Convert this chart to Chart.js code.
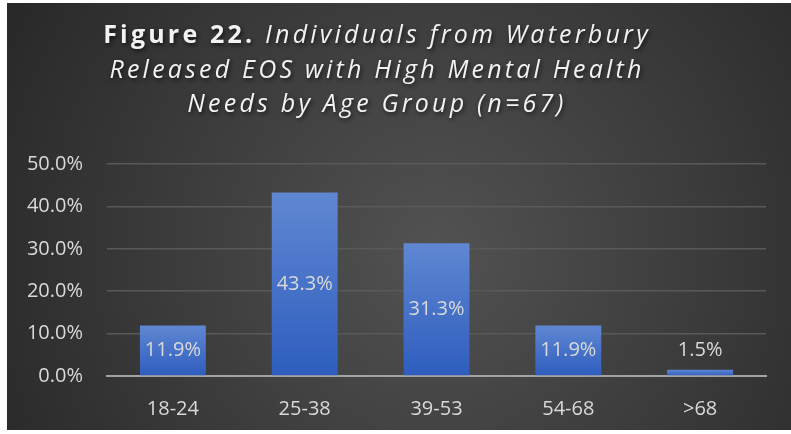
<!DOCTYPE html>
<html>
<head>
<meta charset="utf-8">
<script src="https://cdn.jsdelivr.net/npm/chart.js@4"></script>
<style>
  html, body { margin: 0; padding: 0; background: #ffffff; }
  #wrap { position: absolute; left: 7px; top: 3px; width: 784px; height: 427px; }
</style>
</head>
<body>
<div id="wrap"><canvas id="ageChart" width="784" height="427"></canvas></div>
<script>
const ageGroups = ['18-24', '25-38', '39-53', '54-68', '>68'];
const shareReleased = [11.9, 43.3, 31.3, 11.9, 1.5];
const yTicks = [0, 10, 20, 30, 40, 50];
const titleBold = 'Figure 22.';
const titleLines = [' Individuals from Waterbury', 'Released EOS with High Mental Health', 'Needs by Age Group (n=67)'];

const FONT = '"Open Sans", "Noto Sans", sans-serif';
const TEXT = '#d9d9d9';

// dark panel with a soft radial glow
const backdrop = {
  id: 'backdrop',
  beforeDraw(chart) {
    const c = chart.ctx;
    const w = chart.width, h = chart.height;
    const g = c.createRadialGradient(430, 250, 0, 430, 250, 520);
    g.addColorStop(0, '#525252');
    g.addColorStop(1, '#262626');
    c.save();
    c.fillStyle = g;
    c.fillRect(0, 0, w, h);
    c.restore();
  }
};

// three-line heading: bold lead-in, italic remainder, wide tracking
const heading = {
  id: 'heading',
  afterDraw(chart) {
    const c = chart.ctx;
    const cx = 370;
    const baselines = [40, 74.5, 109];
    c.save();
    c.fillStyle = '#f2f2f2';
    c.textBaseline = 'alphabetic';
    c.textAlign = 'left';
    c.letterSpacing = '3.2px';
    c.shadowColor = 'rgba(0,0,0,0.65)';
    c.shadowOffsetX = 1.5;
    c.shadowOffsetY = 2;
    c.shadowBlur = 4;
    const boldFont = 'bold 25px ' + FONT;
    const italFont = 'italic 25px ' + FONT;

    c.font = boldFont;
    const wb = c.measureText(titleBold).width;
    c.font = italFont;
    const wi = c.measureText(titleLines[0]).width;
    let x = cx - (wb + wi) / 2;
    c.font = boldFont;
    c.fillText(titleBold, x, baselines[0]);
    c.font = italFont;
    c.fillText(titleLines[0], x + wb, baselines[0]);

    for (let i = 1; i < titleLines.length; i++) {
      const w = c.measureText(titleLines[i]).width;
      c.fillText(titleLines[i], cx - w / 2, baselines[i]);
    }
    c.restore();
  }
};

// value labels: centred in the bar, or just above it when the bar is short
const valueLabels = {
  id: 'valueLabels',
  afterDatasetsDraw(chart) {
    const c = chart.ctx;
    const meta = chart.getDatasetMeta(0);
    c.save();
    c.font = '20px ' + FONT;
    c.fillStyle = TEXT;
    c.textAlign = 'center';
    c.textBaseline = 'middle';
    meta.data.forEach((bar, i) => {
      const v = chart.data.datasets[0].data[i];
      const h = bar.base - bar.y;
      const y = h > 28 ? (bar.y + bar.base) / 2 : bar.y - 19;
      c.fillText(v.toFixed(1) + '%', bar.x, y);
    });
    c.restore();
  }
};

function barFill(context) {
  const chart = context.chart;
  if (!chart.chartArea || context.type !== 'data') return '#4472c4';
  const y = chart.scales.y;
  const top = y.getPixelForValue(context.raw);
  const base = y.getPixelForValue(0);
  const g = chart.ctx.createLinearGradient(0, top, 0, base);
  g.addColorStop(0, '#5f87d2');
  g.addColorStop(1, '#2e5dbe');
  return g;
}

new Chart(document.getElementById('ageChart'), {
  type: 'bar',
  data: {
    labels: ageGroups,
    datasets: [{
      data: shareReleased,
      backgroundColor: barFill,
      borderWidth: 0,
      categoryPercentage: 1,
      barPercentage: 0.5
    }]
  },
  options: {
    responsive: false,
    animation: false,
    devicePixelRatio: 1,
    layout: { padding: { top: 161, right: 25, left: 0, bottom: 0 } },
    plugins: {
      legend: { display: false },
      title: { display: false },
      tooltip: { enabled: false }
    },
    scales: {
      x: {
        grid: { display: false, drawTicks: false },
        border: { color: '#a3a3a3', width: 2 },
        ticks: { color: TEXT, font: { family: FONT, size: 20 }, padding: 21 },
        afterFit: s => { s.height = 54; }
      },
      y: {
        min: 0,
        max: 50,
        afterBuildTicks: s => { s.ticks = yTicks.map(v => ({ value: v })); },
        grid: { color: '#595959', lineWidth: 1.5, drawTicks: false },
        border: { display: false },
        ticks: {
          color: TEXT,
          font: { family: FONT, size: 20 },
          padding: 24,
          callback: v => v.toFixed(1) + '%'
        },
        afterFit: s => { s.width = 100; }
      }
    }
  },
  plugins: [backdrop, heading, valueLabels]
});
</script>
</body>
</html>
